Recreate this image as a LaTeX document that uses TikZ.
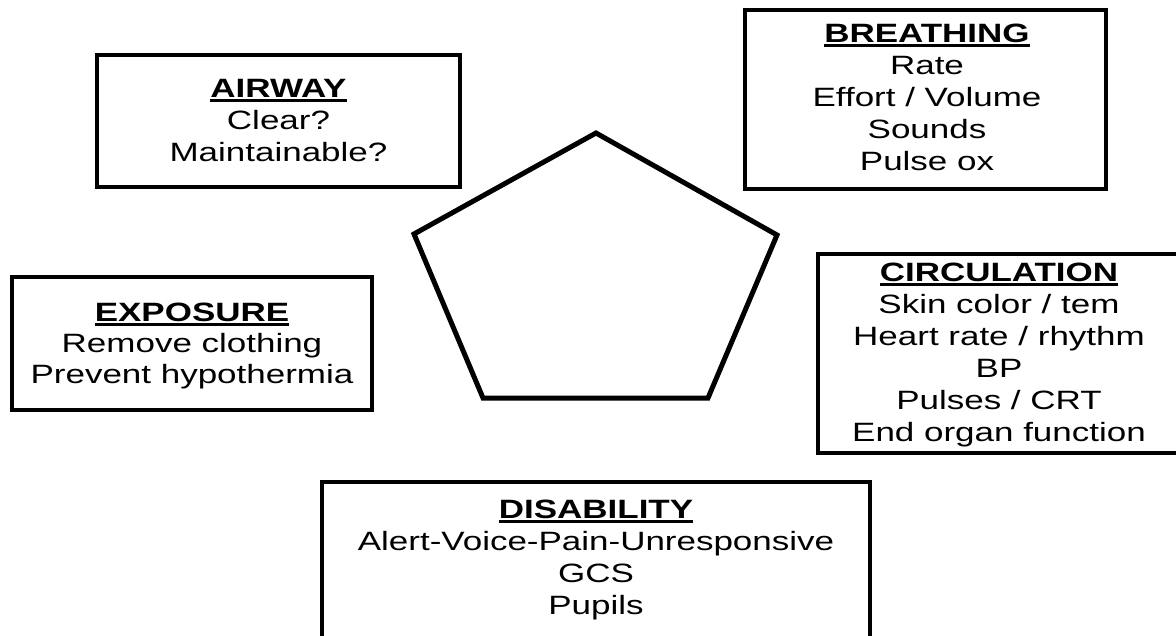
\documentclass[tikz,border=0pt]{standalone}
\usepackage{fontspec}
\setmainfont[FakeStretch=1.32]{Liberation Sans}
\newcommand\hdline[1]{\setbox0\hbox{\bfseries #1}\rlap{\rule[-4.5pt]{\wd0}{3pt}}\box0}
\tikzset{
  boxst/.style={draw=black, line width=4.3pt, inner sep=0pt, rectangle, fill=white},
  txtst/.style={anchor=base, inner sep=0pt, font=\fontsize{26.5}{32}\selectfont},
  pentast/.style={draw=black, line width=5pt, line join=miter},
}
\begin{document}
\begin{tikzpicture}[x=1pt,y=-1pt]
\useasboundingbox (0,0) rectangle (1176,635);
\begin{scope}
\clip (0,0) rectangle (1176,635);
% boxes
\node[boxst, minimum width=363pt, minimum height=132pt] (airway) at (278.5,121) {};
\node[boxst, minimum width=361pt, minimum height=179pt] (breathing) at (925.5,99.5) {};
\node[boxst, minimum width=362pt, minimum height=199pt] (circulation) at (999,353.5) {};
\node[boxst, minimum width=360pt, minimum height=133pt] (exposure) at (192,343.5) {};
\node[boxst, minimum width=548pt, minimum height=178pt] (disability) at (596,571) {};
% texts
\node[txtst] (airwayT) at (278.5,97) {\begin{tabular}[t]{@{}c@{}}\hdline{AIRWAY}\\ Clear?\\ Maintainable?\end{tabular}};
\node[txtst] (breathingT) at (927,42) {\begin{tabular}[t]{@{}c@{}}\hdline{BREATHING}\\ Rate\\ Effort / Volume\\ Sounds\\ Pulse ox\end{tabular}};
\node[txtst] (circulationT) at (999,281) {\begin{tabular}[t]{@{}c@{}}\hdline{CIRCULATION}\\ Skin color / tem\\ Heart rate / rhythm\\ BP\\ Pulses / CRT\\ End organ function\end{tabular}};
\node[txtst, font=\fontsize{26.5}{31}\selectfont] (exposureT) at (192,321) {\begin{tabular}[t]{@{}c@{}}\hdline{EXPOSURE}\\ Remove clothing\\ Prevent hypothermia\end{tabular}};
\node[txtst] (disabilityT) at (596,518) {\begin{tabular}[t]{@{}c@{}}\hdline{DISABILITY}\\ Alert-Voice-Pain-Unresponsive\\ GCS\\ Pupils\end{tabular}};
% pentagon
\draw[pentast] (596,133) -- (777,235) -- (708,398) -- (483,398) -- (414,234) -- cycle;
\end{scope}
\end{tikzpicture}
\end{document}
